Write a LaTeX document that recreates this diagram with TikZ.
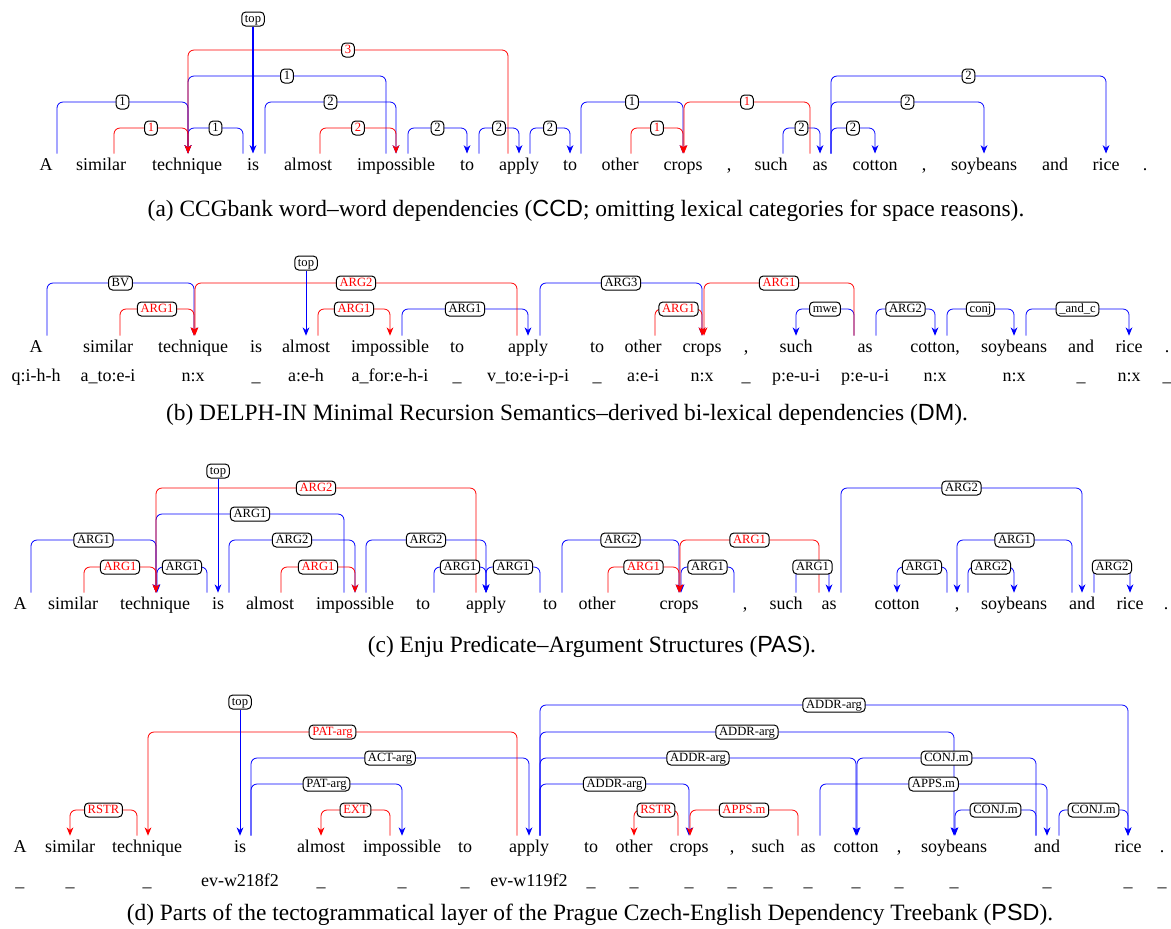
\documentclass[tikz,border=0pt]{standalone}
\usepackage{fontspec}
\setmainfont{Liberation Serif}
\setsansfont{Liberation Sans}
\usepackage{tikz}
\usetikzlibrary{positioning,calc,arrows.meta}

\pgfdeclarelayer{edges}
\pgfsetlayers{edges,main}

\tikzset{
  word/.style={font=\fontsize{9}{10}\selectfont, text height=6.3pt, text depth=2.2pt, inner ysep=1.7pt, inner xsep=0pt},
  lab/.style={draw, fill=white, rounded corners=2pt, line width=0.5pt, font=\fontsize{6.3}{7}\selectfont,
    text height=4.6pt, text depth=1.2pt, inner xsep=1.6pt, inner ysep=0.6pt},
  lab blue/.style={text=black},
  lab red/.style={text=red},
  subcap/.style={font=\fontsize{11.7}{14}\selectfont},
}

% colour, from word, x offset, to word, x offset, height, label
\newcommand{\arcdep}[7]{%
  \coordinate (s) at ($(#2.north)+(#3,0)$);
  \coordinate (e) at ($(#4.north)+(#5,0)$);
  \begin{pgfonlayer}{edges}
    \draw[#1, ->] (s) -- (s |- 0,#6) -- (e |- 0,#6) -- (e);
  \end{pgfonlayer}
  \path (s |- 0,#6) -- node[lab, lab #1, name=l-#2-#4] {#7} (e |- 0,#6);
}

\begin{document}
\begin{tikzpicture}[x=0.5pt, y=-0.5pt, line width=0.6pt, rounded corners=3pt,
  >={Stealth[length=4.2pt, width=3.4pt]}]
\useasboundingbox (0,0) rectangle (1171,928);

% (a) CCD
\node[word] (a1) at (46,166) {A};
\node[word] (a2) at (101,166) {similar};
\node[word] (a3) at (187,166) {technique};
\node[word] (a4) at (253,166) {is};
\node[word] (a5) at (308,166) {almost};
\node[word] (a6) at (396,166) {impossible};
\node[word] (a7) at (467,166) {to};
\node[word] (a8) at (519,166) {apply};
\node[word] (a9) at (570,166) {to};
\node[word] (a10) at (620,166) {other};
\node[word] (a11) at (683,166) {crops};
\node[word] (a12) at (729,166) {,};
\node[word] (a13) at (771,166) {such};
\node[word] (a14) at (820,166) {as};
\node[word] (a15) at (875,166) {cotton};
\node[word] (a16) at (924,166) {,};
\node[word] (a17) at (984,166) {soybeans};
\node[word] (a18) at (1055,166) {and};
\node[word] (a19) at (1106,166) {rice};
\node[word] (a20) at (1145,166) {.};

\node[lab] (ta) at (a4 |- 0,19) {top};
\draw[blue, ->] (ta) -- (a4);
\arcdep{blue}{a1}{11}{a3}{1}{102}{1}
\arcdep{blue}{a4}{-10}{a3}{1}{128}{1}
\arcdep{blue}{a6}{-10}{a3}{1}{76}{1}
\arcdep{blue}{a4}{12}{a6}{0}{102}{2}
\arcdep{blue}{a6}{12}{a7}{0}{128}{2}
\arcdep{blue}{a7}{12}{a8}{0}{128}{2}
\arcdep{blue}{a8}{11}{a9}{0}{128}{2}
\arcdep{blue}{a9}{11}{a11}{0}{102}{1}
\arcdep{blue}{a13}{12}{a14}{0}{128}{2}
\arcdep{blue}{a14}{11}{a15}{0}{128}{2}
\arcdep{blue}{a14}{11}{a17}{0}{102}{2}
\arcdep{blue}{a14}{11}{a19}{0}{76}{2}
\arcdep{red}{a2}{13}{a3}{1}{128}{1}
\arcdep{red}{a8}{-11}{a3}{1}{50}{3}
\arcdep{red}{a5}{12}{a6}{0}{128}{2}
\arcdep{red}{a10}{11}{a11}{0}{128}{1}
\arcdep{red}{a14}{-10}{a11}{1}{102}{1}

\node[subcap] (capa) at (586,211) {(a) CCGbank word--word dependencies (\textsf{CCD}; omitting lexical categories for space reasons).};

% (b) DM
\node[word] (b1) at (36,348) {A};
\node[word] (b2) at (108,348) {similar};
\node[word] (b3) at (193,348) {technique};
\node[word] (b4) at (256,348) {is};
\node[word] (b5) at (306,348) {almost};
\node[word] (b6) at (390,348) {impossible};
\node[word] (b7) at (457,348) {to};
\node[word] (b8) at (528,348) {apply};
\node[word] (b9) at (597,348) {to};
\node[word] (b10) at (643,348) {other};
\node[word] (b11) at (702,348) {crops};
\node[word] (b12) at (746,348) {,};
\node[word] (b13) at (796,348) {such};
\node[word] (b14) at (865,348) {as};
\node[word] (b15) at (935,348) {cotton,};
\node[word] (b16) at (1014,348) {soybeans};
\node[word] (b17) at (1081,348) {and};
\node[word] (b18) at (1129,348) {rice};
\node[word] (b19) at (1167,348) {.};

\node[word, below=2.6pt of b1] (p1) {q:i-h-h};
\node[word, below=2.6pt of b2] (p2) {a\_to:e-i};
\node[word, below=2.6pt of b3] (p3) {n:x};
\node[word, below=2.6pt of b4] (p4) {\_};
\node[word, below=2.6pt of b5] (p5) {a:e-h};
\node[word, below=2.6pt of b6] (p6) {a\_for:e-h-i};
\node[word, below=2.6pt of b7] (p7) {\_};
\node[word, below=2.6pt of b8] (p8) {v\_to:e-i-p-i};
\node[word, below=2.6pt of b9] (p9) {\_};
\node[word, below=2.6pt of b10] (p10) {a:e-i};
\node[word, below=2.6pt of b11] (p11) {n:x};
\node[word, below=2.6pt of b12] (p12) {\_};
\node[word, below=2.6pt of b13] (p13) {p:e-u-i};
\node[word, below=2.6pt of b14] (p14) {p:e-u-i};
\node[word, below=2.6pt of b15] (p15) {n:x};
\node[word, below=2.6pt of b16] (p16) {n:x};
\node[word, below=2.6pt of b17] (p17) {\_};
\node[word, below=2.6pt of b18] (p18) {n:x};
\node[word, below=2.6pt of b19] (p19) {\_};

\node[lab] (tb) at (b5 |- 0,263) {top};
\draw[blue, ->] (tb) -- (b5);
\arcdep{blue}{b1}{11}{b3}{1}{283}{BV}
\arcdep{blue}{b6}{12}{b8}{0}{309}{ARG1}
\arcdep{blue}{b8}{12}{b11}{0}{283}{ARG3}
\arcdep{blue}{b14}{-11}{b13}{0}{309}{mwe}
\arcdep{blue}{b14}{11}{b15}{0}{309}{ARG2}
\arcdep{blue}{b15}{12}{b16}{0}{309}{conj}
\arcdep{blue}{b16}{12}{b18}{0}{309}{\_and\_c}
\arcdep{red}{b2}{12}{b3}{1}{309}{ARG1}
\arcdep{red}{b8}{-11}{b3}{2}{283}{ARG2}
\arcdep{red}{b5}{12}{b6}{0}{309}{ARG1}
\arcdep{red}{b10}{12}{b11}{0}{309}{ARG1}
\arcdep{red}{b14}{-11}{b11}{2}{283}{ARG1}

\node[subcap] (capb) at (567,415) {(b) DELPH-IN Minimal Recursion Semantics--derived bi-lexical dependencies (\textsf{DM}).};

% (c) PAS
\node[word] (c1) at (20,605) {A};
\node[word] (c2) at (73,605) {similar};
\node[word] (c3) at (155,605) {technique};
\node[word] (c4) at (218,605) {is};
\node[word] (c5) at (270,605) {almost};
\node[word] (c6) at (355,605) {impossible};
\node[word] (c7) at (423,605) {to};
\node[word] (c8) at (486,605) {apply};
\node[word] (c9) at (550,605) {to};
\node[word] (c10) at (597,605) {other};
\node[word] (c11) at (679,605) {crops};
\node[word] (c12) at (745,605) {,};
\node[word] (c13) at (786,605) {such};
\node[word] (c14) at (829,605) {as};
\node[word] (c15) at (897,605) {cotton};
\node[word] (c16) at (957,605) {,};
\node[word] (c17) at (1014,605) {soybeans};
\node[word] (c18) at (1082,605) {and};
\node[word] (c19) at (1130,605) {rice};
\node[word] (c20) at (1166,605) {.};

\node[lab] (tc) at (c4 |- 0,471) {top};
\draw[blue, ->] (tc) -- (c4);
\arcdep{blue}{c1}{11}{c3}{1}{540}{ARG1}
\arcdep{blue}{c4}{-11}{c3}{2}{567}{ARG1}
\arcdep{blue}{c6}{-11}{c3}{1}{514}{ARG1}
\arcdep{blue}{c4}{11}{c6}{0}{540}{ARG2}
\arcdep{blue}{c6}{11}{c8}{0}{540}{ARG2}
\arcdep{blue}{c7}{11}{c8}{0}{567}{ARG1}
\arcdep{blue}{c9}{-10}{c8}{0}{567}{ARG1}
\arcdep{blue}{c9}{12}{c11}{0}{540}{ARG2}
\arcdep{blue}{c12}{-11}{c11}{2}{567}{ARG1}
\arcdep{blue}{c13}{10}{c14}{0}{567}{ARG1}
\arcdep{blue}{c14}{12}{c18}{0}{488}{ARG2}
\arcdep{blue}{c16}{-10}{c15}{0}{567}{ARG1}
\arcdep{blue}{c16}{11}{c17}{0}{567}{ARG2}
\arcdep{blue}{c18}{-10}{c16}{0}{540}{ARG1}
\arcdep{blue}{c18}{12}{c19}{0}{567}{ARG2}
\arcdep{red}{c2}{11}{c3}{1}{567}{ARG1}
\arcdep{red}{c8}{-10}{c3}{1}{488}{ARG2}
\arcdep{red}{c5}{11}{c6}{0}{567}{ARG1}
\arcdep{red}{c10}{11}{c11}{0}{567}{ARG1}
\arcdep{red}{c14}{-10}{c11}{1}{540}{ARG1}

\node[subcap] (capc) at (592,647) {(c) Enju Predicate--Argument Structures (\textsf{PAS}).};

% (d) PSD
\node[word] (d1) at (20,848) {A};
\node[word] (d2) at (70,848) {similar};
\node[word] (d3) at (147,848) {technique};
\node[word] (d4) at (240,848) {is};
\node[word] (d5) at (321,848) {almost};
\node[word] (d6) at (402,848) {impossible};
\node[word] (d7) at (465,848) {to};
\node[word] (d8) at (529,848) {apply};
\node[word] (d9) at (591,848) {to};
\node[word] (d10) at (634,848) {other};
\node[word] (d11) at (689,848) {crops};
\node[word] (d12) at (732,848) {,};
\node[word] (d13) at (768,848) {such};
\node[word] (d14) at (808,848) {as};
\node[word] (d15) at (856,848) {cotton};
\node[word] (d16) at (899,848) {,};
\node[word] (d17) at (954,848) {soybeans};
\node[word] (d18) at (1047,848) {and};
\node[word] (d19) at (1128,848) {rice};
\node[word] (d20) at (1162,848) {.};

\node[word, below=5.1pt of d1] (q1) {\_};
\node[word, below=5.1pt of d2] (q2) {\_};
\node[word, below=5.1pt of d3] (q3) {\_};
\node[word, below=5.1pt of d4] (q4) {ev-w218f2};
\node[word, below=5.1pt of d5] (q5) {\_};
\node[word, below=5.1pt of d6] (q6) {\_};
\node[word, below=5.1pt of d7] (q7) {\_};
\node[word, below=5.1pt of d8] (q8) {ev-w119f2};
\node[word, below=5.1pt of d9] (q9) {\_};
\node[word, below=5.1pt of d10] (q10) {\_};
\node[word, below=5.1pt of d11] (q11) {\_};
\node[word, below=5.1pt of d12] (q12) {\_};
\node[word, below=5.1pt of d13] (q13) {\_};
\node[word, below=5.1pt of d14] (q14) {\_};
\node[word, below=5.1pt of d15] (q15) {\_};
\node[word, below=5.1pt of d16] (q16) {\_};
\node[word, below=5.1pt of d17] (q17) {\_};
\node[word, below=5.1pt of d18] (q18) {\_};
\node[word, below=5.1pt of d19] (q19) {\_};
\node[word, below=5.1pt of d20] (q20) {\_};

\node[lab] (td) at (d4 |- 0,702) {top};
\draw[blue, ->] (td) -- (d4);
\arcdep{blue}{d4}{11}{d8}{0}{758}{ACT-arg}
\arcdep{blue}{d4}{11}{d6}{0}{784}{PAT-arg}
\arcdep{blue}{d8}{11}{d19}{0}{705}{ADDR-arg}
\arcdep{blue}{d8}{11}{d17}{0}{732}{ADDR-arg}
\arcdep{blue}{d8}{11}{d15}{0}{758}{ADDR-arg}
\arcdep{blue}{d8}{11}{d11}{0}{784}{ADDR-arg}
\arcdep{blue}{d18}{-11}{d15}{1}{758}{CONJ.m}
\arcdep{blue}{d14}{12}{d18}{0}{784}{APPS.m}
\arcdep{blue}{d18}{-11}{d17}{1}{810}{CONJ.m}
\arcdep{blue}{d18}{12}{d19}{0}{810}{CONJ.m}
\arcdep{red}{d3}{-10}{d2}{0}{810}{RSTR}
\arcdep{red}{d8}{-12}{d3}{1}{732}{PAT-arg}
\arcdep{red}{d6}{-12}{d5}{0}{810}{EXT}
\arcdep{red}{d11}{-11}{d10}{0}{810}{RSTR}
\arcdep{red}{d14}{-10}{d11}{1}{810}{APPS.m}

\node[subcap] (capd) at (590,915) {(d) Parts of the tectogrammatical layer of the Prague Czech-English Dependency Treebank (\textsf{PSD}).};
\end{tikzpicture}
\end{document}
